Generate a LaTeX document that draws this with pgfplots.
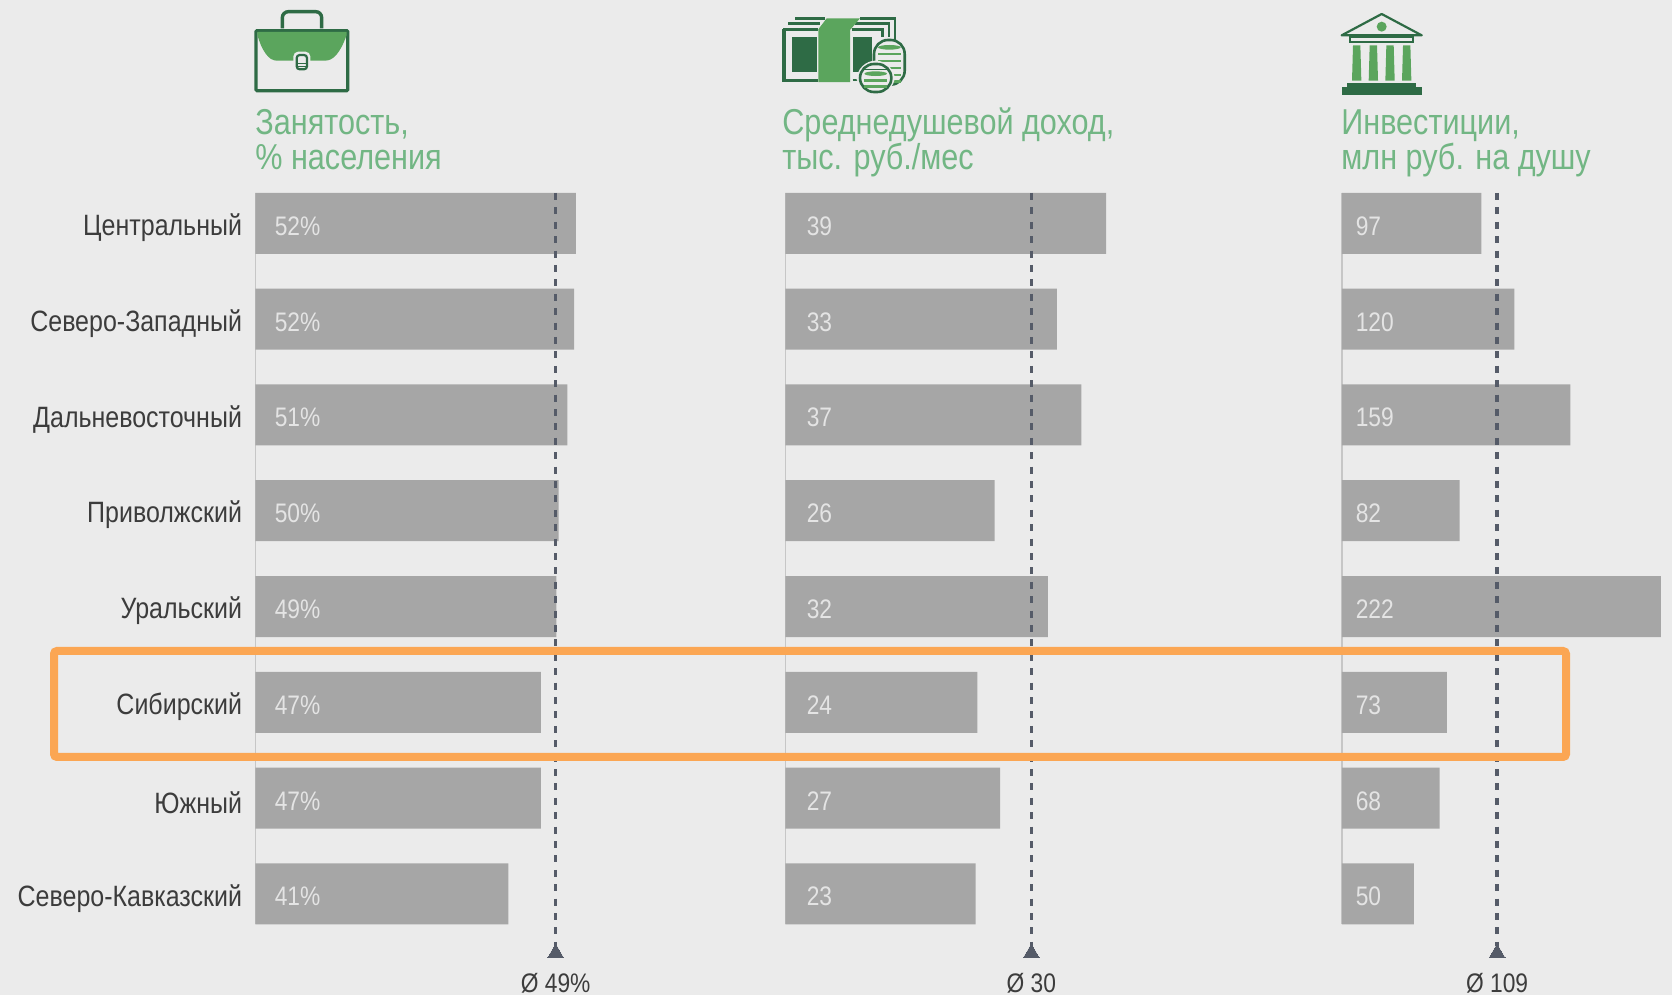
\documentclass[border=0pt]{standalone}
\usepackage{fontspec}
\setmainfont[FakeStretch=0.85]{Liberation Sans}
\usepackage{pgfplots}
\usepackage{pgfplotstable}
\pgfplotsset{compat=1.18}

\definecolor{bg}{HTML}{EBEBEB}
\definecolor{barc}{HTML}{A6A6A6}
\definecolor{barlab}{HTML}{E4E4E4}
\definecolor{base}{HTML}{C6C6C6}
\definecolor{avg}{HTML}{555B68}
\definecolor{rowlab}{HTML}{3C3C3C}
\definecolor{titlec}{HTML}{72B684}
\definecolor{gr}{HTML}{5BA55D}
\definecolor{dk}{HTML}{2E6B45}
\definecolor{box}{HTML}{FBA653}

% row, bar length as read, printed label
\pgfplotstableread{
row len lab
1 52.2 52
2 51.9 52
3 50.8 51
4 49.4 50
5 49.0 49
6 46.5 47
7 46.5 47
8 41.2 41
}\employment
\pgfplotstableread{
row len lab
1 39.1 39
2 33.1 33
3 36.1 37
4 25.5 26
5 32.0 32
6 23.4 24
7 26.2 27
8 23.2 23
}\income
\pgfplotstableread{
row len lab
1 97 97
2 120 120
3 159 159
4 82 82
5 222 222
6 73 73
7 68 68
8 50 50
}\invest

\pgfplotsset{
  panel/.style={
    anchor=south west, scale only axis, clip=false,
    height=365.6pt,
    xmin=0, ymin=0.684, ymax=8.316, y dir=reverse,
    axis x line=none, axis y line=left,
    y axis line style={-, draw=base, line width=0.7pt},
    ytick={1,...,8}, major tick length=0pt,
    yticklabel style={text=rowlab, font=\fontsize{14.7}{16}\selectfont, inner sep=0pt, xshift=-6.5pt, yshift=-2.2pt},
    every axis plot/.append style={forget plot},
  },
  bars/.style={xbar, bar width=30.5pt, bar shift=0pt, fill=barc, draw=none},
  barlabels/.style={only marks, mark=none, point meta=explicit symbolic,
    every node near coord/.append style={anchor=west, inner sep=0pt, text=barlab, yshift=-1.4pt,
      font=\fontsize{13.4}{16}\selectfont}},
  avgline/.style={draw=avg, line width=1.7pt, dash pattern=on 3.5pt off 3.7pt},
  avgmark/.style={only marks, color=avg, mark=triangle*, mark size=4.6pt, mark options={fill=avg, draw=avg, line width=0pt}},
}
\newcommand{\avglabel}[2]{\node[text=rowlab, font=\fontsize{13.4}{16}\selectfont] at (axis cs:#1,8.93) {#2};}

\begin{document}
\begin{tikzpicture}[x=0.5pt,y=0.5pt]
\useasboundingbox (0,0) rectangle (1672,995);
\clip (0,0) rectangle (1672,995);
\fill[bg] (0,0) rectangle (1672,995);

% employment, 6.14 px per unit
\begin{axis}[panel, at={(127.7pt,35.4pt)}, width=184.2pt, xmax=60,
  yticklabels={Центральный,Северо-Западный,Дальневосточный,Приволжский,Уральский,Сибирский,Южный,Северо-Кавказский}]
\addplot[bars] table[x=len,y=row] {\employment};
\addplot[barlabels, nodes near coords={\pgfplotspointmeta\%}] table[x expr=3.1,y=row,meta=lab] {\employment};
\addplot[avgline] coordinates {(48.9,0.684)(48.9,8.54)};
\addplot[avgmark] coordinates {(48.9,8.62)};
\avglabel{48.9}{Ø 49\%}
\end{axis}

% income, 8.2 px per unit
\begin{axis}[panel, at={(392.7pt,35.4pt)}, width=184.5pt, xmax=45, yticklabels={}]
\addplot[bars] table[x=len,y=row] {\income};
\addplot[barlabels, nodes near coords] table[x expr=2.56,y=row,meta=lab] {\income};
\addplot[avgline] coordinates {(30,0.684)(30,8.54)};
\addplot[avgmark] coordinates {(30,8.62)};
\avglabel{30}{Ø 30}
\end{axis}

% investment, 1.437 px per unit
\begin{axis}[panel, at={(670.95pt,35.4pt)}, width=161.66pt, xmax=225, yticklabels={}]
\addplot[bars] table[x=len,y=row] {\invest};
\addplot[barlabels, nodes near coords] table[x expr=9.4,y=row,meta=lab] {\invest};
\addplot[avgline] coordinates {(108,0.684)(108,8.54)};
\addplot[avgmark] coordinates {(108,8.62)};
\avglabel{108}{Ø 109}
\end{axis}

% titles
\begin{scope}[every node/.style={anchor=base west, inner sep=0pt, text=titlec, font=\fontsize{18}{20}\selectfont}]
\node at (255,860) {Занятость,};
\node at (255,825) {\% населения};
\node at (782,860) {Среднедушевой доход,};
\node at (782,825) {тыс. руб./мес};
\node at (1341,860) {Инвестиции,};
\node at (1341,825) {млн руб. на душу};
\end{scope}

% briefcase icon
\begin{scope}[shift={(115pt,497.5pt)},x=0.1667pt,y=-0.1667pt]
\draw[dk, line width=1.7pt, rounded corners=3pt] (157,85)--(157,35)--(275,35)--(275,85);
\draw[dk, line width=1.6pt, fill=bg, rounded corners=0.5pt] (78,92) rectangle (353,272);
\fill[gr] (82,96)--(350,96)--(350,105) .. controls (330,160) and (310,182) .. (285,182)--(140,182) .. controls (115,182) and (95,150) .. (82,105)--cycle;
\draw[bg, line width=1pt, fill=bg, rounded corners=2pt] (193,158) rectangle (238,213);
\draw[dk, line width=1.1pt, rounded corners=1.5pt] (200,165) rectangle (231,208);
\draw[dk, line width=0.7pt] (203,190)--(228,190) (203,199)--(228,199);
\end{scope}

% money icon
\begin{scope}[shift={(385pt,497.5pt)},x=0.1667pt,y=-0.1667pt]
\draw[dk, line width=1.3pt] (75,55)--(165,55) (55,70)--(150,70) (40,88)--(145,88);
\draw[dk, line width=1.3pt] (270,55)--(375,55)--(375,125) (255,70)--(357,70)--(357,112) (245,88)--(338,88)--(338,110);
\draw[dk, line width=1.6pt] (42,88)--(42,242)--(145,242);
\fill[dk] (65,110) rectangle (142,216);
\fill[dk] (248,110) rectangle (306,216);
\fill[gr] (145,88)--(170,55)--(270,55)--(240,90)--(240,246)--(145,246)--cycle;
\draw[dk, line width=1.3pt] (248,240)--(265,240);
\draw[dk, line width=1.3pt, fill=bg, rounded corners=7pt] (312,120) rectangle (404,254);
\foreach \yy in {162,183,204,225,244} \draw[gr, line width=1.2pt] (324,\yy)--(392,\yy);
\fill[gr] (358,142) ellipse (34 and 7);
\draw[bg, line width=1.4pt, fill=bg, rounded corners=9pt] (264,186) rectangle (370,282);
\draw[dk, line width=1.3pt, fill=bg, rounded corners=7pt] (270,192) rectangle (364,276);
\draw[dk, line width=0.7pt] (282,208)--(352,208);
\fill[gr] (317,221) ellipse (34 and 7);
\foreach \yy in {241,259} \draw[gr, line width=1.2pt] (282,\yy)--(352,\yy);
\end{scope}

% bank icon
\begin{scope}[shift={(650pt,497.5pt)},x=0.1667pt,y=-0.1667pt]
\draw[dk, line width=1.1pt, line join=round] (125,106)--(245,42)--(365,106)--cycle;
\fill[gr] (245,80) circle (15);
\draw[dk, line width=1pt] (150,112) rectangle (340,127);
\foreach \xx in {170,220,270,320} \fill[gr] (\xx-11,136)--(\xx+11,136)--(\xx+14,242)--(\xx-14,242)--cycle;
\fill[dk] (140,250) rectangle (348,262);
\fill[dk] (125,262) rectangle (365,285);
\end{scope}

% highlight
\draw[box, line width=4pt, rounded corners=1.5pt] (54,344) rectangle (1566,238);
\end{tikzpicture}
\end{document}
